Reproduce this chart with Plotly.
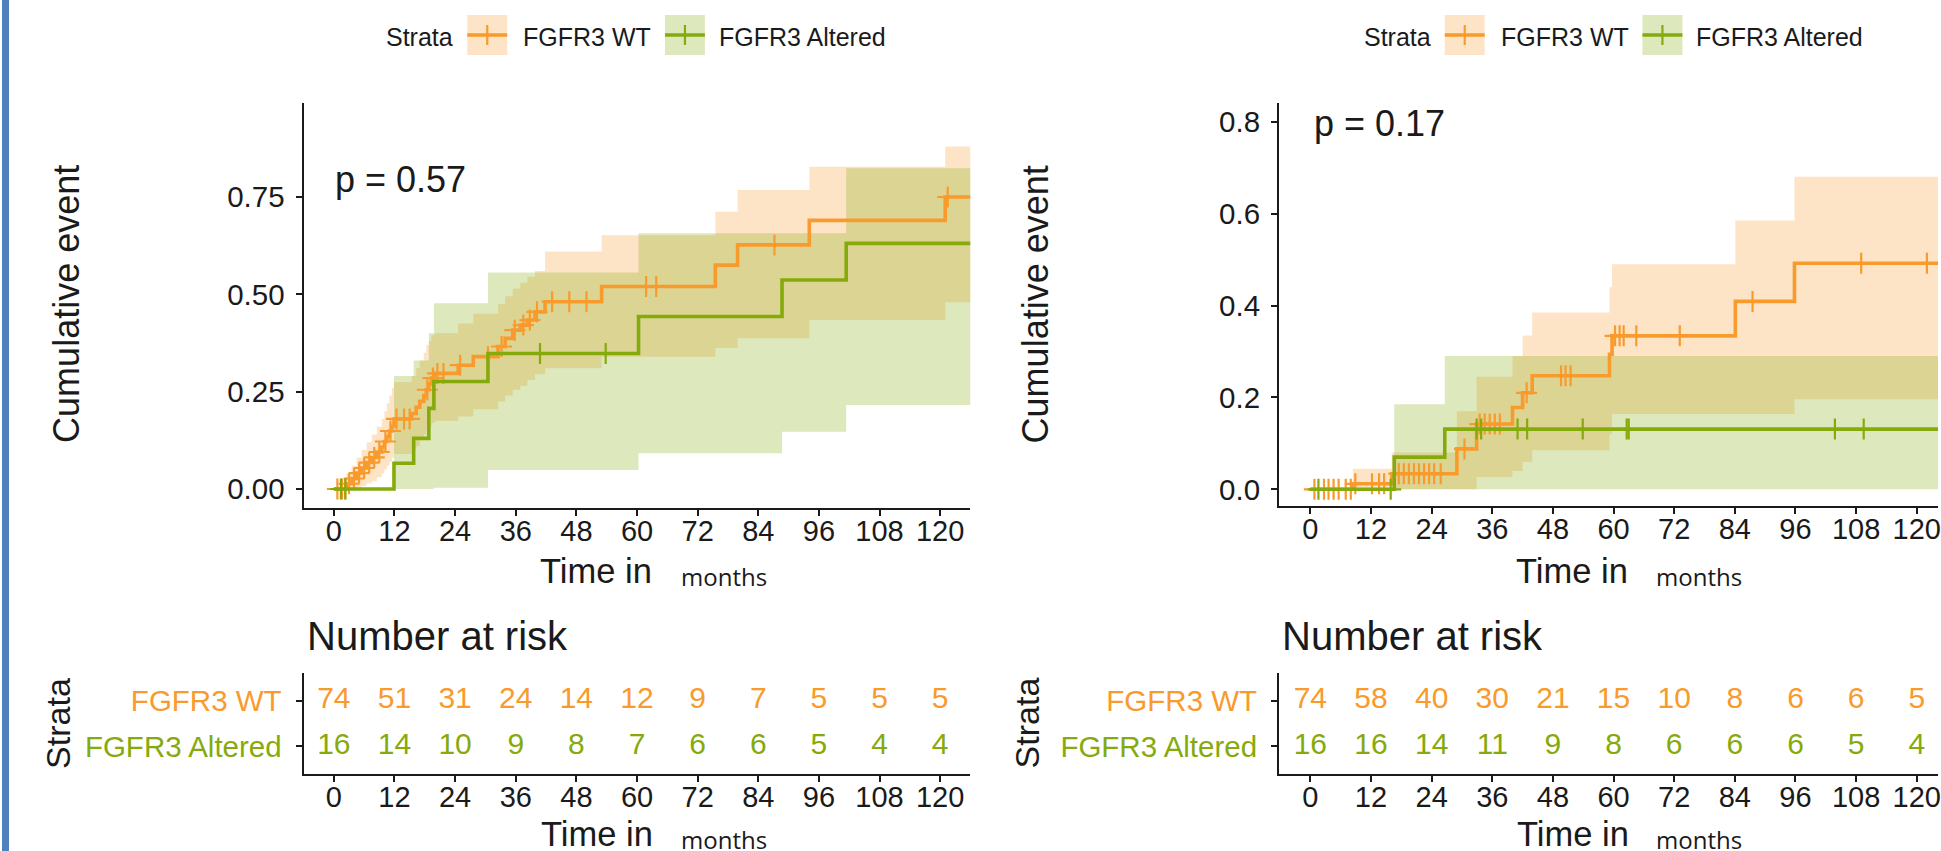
import plotly.graph_objects as go

W, H = 1941, 851
ORANGE = "#F99A2C"
GREEN = "#86AA0B"
ORANGE_FILL = "rgba(249,154,44,0.27)"
GREEN_FILL = "rgba(134,170,11,0.27)"
FONT = "Liberation Sans, Arial, Helvetica, sans-serif"
FONT2 = "Open Sans, Noto Sans, sans-serif"
INK = "#1a1a1a"

# ---------------- data ----------------
time_ticks = [0, 12, 24, 36, 48, 60, 72, 84, 96, 108, 120]
strata_names = ["FGFR3 WT", "FGFR3 Altered"]

# Left panel (p = 0.57)
left_wt_time = [0, 2.5, 3.5, 4.5, 5.5, 6.5, 7.5, 8.5, 9.5, 10.0, 10.5, 11.0, 11.5, 11.9, 15.4, 16.3, 17.0,
                17.8, 18.3, 18.8, 19.3, 20.0, 24.6, 27.6, 32.5, 33.9, 35.4, 36.9, 38.3, 39.8, 41.8, 53.0,
                75.5, 79.9, 94.1, 121.0, 126.0]
left_wt_event = [0, 0.0135, 0.027, 0.041, 0.054, 0.068, 0.081, 0.095, 0.108, 0.122, 0.135, 0.149, 0.162,
                 0.18, 0.194, 0.21, 0.225, 0.24, 0.255, 0.27, 0.285, 0.297, 0.318, 0.34, 0.366, 0.387,
                 0.408, 0.421, 0.434, 0.455, 0.481, 0.52, 0.575, 0.627, 0.69, 0.75, 0.75]
left_wt_upper = [0, 0.04, 0.06, 0.08, 0.10, 0.12, 0.14, 0.16, 0.18, 0.20, 0.22, 0.24, 0.26, 0.275, 0.29,
                 0.31, 0.33, 0.35, 0.37, 0.38, 0.395, 0.40, 0.425, 0.45, 0.475, 0.495, 0.515, 0.53, 0.545,
                 0.56, 0.61, 0.652, 0.712, 0.768, 0.828, 0.88, 0.88]
left_wt_lower = [0, 0, 0, 0.003, 0.008, 0.015, 0.02, 0.03, 0.04, 0.05, 0.06, 0.07, 0.08, 0.09, 0.10,
                 0.11, 0.125, 0.14, 0.15, 0.16, 0.17, 0.175, 0.186, 0.205, 0.225, 0.24, 0.255, 0.265,
                 0.28, 0.295, 0.31, 0.34, 0.362, 0.387, 0.434, 0.48, 0.48]
left_wt_censor = [0.7, 1.6, 2.2, 3.0, 4.0, 5.0, 6.0, 7.0, 8.0, 9.0, 10.2, 11.2, 12.4, 13.9, 15.0, 18.5,
                  19.6, 20.5, 21.7, 25.0, 30.5, 33.2, 35.8, 37.5, 38.8, 40.2, 43.2, 46.6, 50.0, 61.8,
                  63.8, 87.2, 121.5]

left_alt_time = [0, 11.9, 15.8, 18.8, 19.8, 30.5, 60.3, 88.7, 101.4, 126.0]
left_alt_event = [0, 0.066, 0.13, 0.207, 0.276, 0.348, 0.443, 0.537, 0.631, 0.631]
left_alt_upper = [0, 0.29, 0.33, 0.40, 0.477, 0.556, 0.657, 0.657, 0.824, 0.824]
left_alt_lower = [0, 0, 0, 0, 0.003, 0.049, 0.092, 0.147, 0.216, 0.216]
left_alt_censor = [1.4, 2.3, 40.8, 53.8]

left_risk_wt = [74, 51, 31, 24, 14, 12, 9, 7, 5, 5, 5]
left_risk_alt = [16, 14, 10, 9, 8, 7, 6, 6, 5, 4, 4]

# Right panel (p = 0.17)
right_wt_time = [0, 8.4, 16.1, 29.0, 32.9, 40.0, 42.0, 43.9, 59.2, 59.7, 84.1, 95.8, 126.0]
right_wt_event = [0, 0.012, 0.034, 0.088, 0.142, 0.178, 0.21, 0.247, 0.294, 0.334, 0.409, 0.492, 0.492]
right_wt_upper = [0, 0.045, 0.08, 0.17, 0.245, 0.29, 0.335, 0.385, 0.44, 0.49, 0.585, 0.68, 0.68]
right_wt_lower = [0, 0, 0, 0, 0.027, 0.04, 0.06, 0.085, 0.12, 0.164, 0.164, 0.196, 0.196]
right_wt_censor = [0.8, 2.7, 3.6, 4.6, 5.6, 7.0, 8.0, 8.9, 12.2, 13.6, 14.6, 17.5, 18.5, 19.5, 20.5,
                   21.5, 22.5, 23.5, 24.5, 25.8, 30.5, 33.5, 34.5, 35.5, 36.5, 37.5, 42.8, 49.6, 50.5,
                   51.5, 60.3, 61.2, 62.0, 64.5, 73.1, 87.5, 109.0, 122.0]

right_alt_time = [0, 16.6, 26.6, 126.0]
right_alt_event = [0, 0.07, 0.131, 0.131]
right_alt_upper = [0, 0.185, 0.29, 0.29]
right_alt_lower = [0, 0, 0, 0]
right_alt_censor = [1.6, 15.9, 32.9, 33.8, 41.0, 42.9, 53.9, 62.6, 63.0, 103.8, 109.5]

right_risk_wt = [74, 58, 40, 30, 21, 15, 10, 8, 6, 6, 5]
right_risk_alt = [16, 16, 14, 11, 9, 8, 6, 6, 6, 5, 4]

p_values = ["p = 0.57", "p = 0.17"]


# ---------------- helpers ----------------
def P(px):
    return px / W


def Q(py):
    return 1 - py / H


def step_at(ts, vs, t):
    val = vs[0]
    for ti, vi in zip(ts, vs):
        if ti <= t:
            val = vi
        else:
            break
    return val


fig = go.Figure()


def add_group(t, lo, up, fill, xa, ya):
    fig.add_trace(go.Scatter(x=t, y=lo, mode="lines", line=dict(width=0, shape="hv"),
                             xaxis=xa, yaxis=ya, showlegend=False, hoverinfo="skip"))
    fig.add_trace(go.Scatter(x=t, y=up, mode="lines", line=dict(width=0, shape="hv"),
                             fill="tonexty", fillcolor=fill,
                             xaxis=xa, yaxis=ya, showlegend=False, hoverinfo="skip"))


def add_line(t, v, cens, color, xa, ya):
    fig.add_trace(go.Scatter(x=t, y=v, mode="lines", line=dict(width=3.6, color=color, shape="hv"),
                             xaxis=xa, yaxis=ya, showlegend=False))
    fig.add_trace(go.Scatter(x=cens, y=[step_at(t, v, c) for c in cens], mode="markers",
                             marker=dict(symbol="cross-thin", size=15, color=color,
                                         line=dict(width=2.2, color=color)),
                             xaxis=xa, yaxis=ya, showlegend=False))


# left panel
add_group(left_wt_time, left_wt_lower, left_wt_upper, ORANGE_FILL, "x", "y")
add_group(left_alt_time, left_alt_lower, left_alt_upper, GREEN_FILL, "x", "y")
add_line(left_wt_time, left_wt_event, left_wt_censor, ORANGE, "x", "y")
add_line(left_alt_time, left_alt_event, left_alt_censor, GREEN, "x", "y")

# right panel
add_group(right_wt_time, right_wt_lower, right_wt_upper, ORANGE_FILL, "x2", "y2")
add_group(right_alt_time, right_alt_lower, right_alt_upper, GREEN_FILL, "x2", "y2")
add_line(right_wt_time, right_wt_event, right_wt_censor, ORANGE, "x2", "y2")
add_line(right_alt_time, right_alt_event, right_alt_censor, GREEN, "x2", "y2")

# risk tables
for xa, ya, wt, alt in (("x3", "y3", left_risk_wt, left_risk_alt), ("x4", "y4", right_risk_wt, right_risk_alt)):
    fig.add_trace(go.Scatter(x=time_ticks, y=[2] * len(time_ticks), mode="text",
                             text=[str(n) for n in wt],
                             textfont=dict(size=30, color=ORANGE, family=FONT),
                             xaxis=xa, yaxis=ya, showlegend=False, hoverinfo="skip"))
    fig.add_trace(go.Scatter(x=time_ticks, y=[1] * len(time_ticks), mode="text",
                             text=[str(n) for n in alt],
                             textfont=dict(size=30, color=GREEN, family=FONT),
                             xaxis=xa, yaxis=ya, showlegend=False, hoverinfo="skip"))

# ---------------- axes ----------------
x_common = dict(tickvals=time_ticks, ticktext=[str(t) for t in time_ticks], ticks="outside", ticklen=6,
                tickwidth=2, tickcolor=INK, showline=True, linewidth=2, linecolor=INK,
                showgrid=False, zeroline=False, ticklabelstandoff=-10, ticklabeloverflow="allow",
                tickfont=dict(size=29, color=INK, family=FONT))
y_common = dict(ticks="outside", ticklen=6, tickwidth=2, tickcolor=INK, showline=True, linewidth=2,
                linecolor=INK, showgrid=False, zeroline=False, ticklabelstandoff=5,
                tickfont=dict(size=29.5, color=INK, family=FONT))

left_dom = [P(304), P(972)]
right_dom = [P(1281), 1.0]
main_y_dom_l = [Q(508), Q(103)]
main_y_dom_r = [Q(506), Q(103)]
risk_y_dom = [Q(774), Q(673)]

risk_ticktext = [f"<span style='color:{GREEN}'>{strata_names[1]}</span>",
                 f"<span style='color:{ORANGE}'>{strata_names[0]}</span>"]
risk_y = {**y_common, "tickfont": dict(size=29.5, color=INK, family=FONT), "ticklabelstandoff": 8}

fig.update_layout(
    xaxis=dict(domain=left_dom, range=[-6, 126], anchor="y", **x_common),
    yaxis=dict(domain=main_y_dom_l, range=[-0.0488, 0.9915], anchor="x",
               tickvals=[0, 0.25, 0.5, 0.75], ticktext=["0.00", "0.25", "0.50", "0.75"], **y_common),
    xaxis2=dict(domain=right_dom, range=[-6.2, 124.2], anchor="y2", **x_common),
    yaxis2=dict(domain=main_y_dom_r, range=[-0.0363, 0.8407], anchor="x2",
                tickvals=[0, 0.2, 0.4, 0.6, 0.8], ticktext=["0.0", "0.2", "0.4", "0.6", "0.8"], **y_common),
    xaxis3=dict(domain=left_dom, range=[-6, 126], anchor="y3", **x_common),
    yaxis3=dict(domain=risk_y_dom, range=[0.4, 2.6], anchor="x3", tickvals=[1, 2],
                ticktext=risk_ticktext, **risk_y),
    xaxis4=dict(domain=right_dom, range=[-6.2, 124.2], anchor="y4", **x_common),
    yaxis4=dict(domain=risk_y_dom, range=[0.4, 2.6], anchor="x4", tickvals=[1, 2],
                ticktext=risk_ticktext, **risk_y),
    width=W, height=H, margin=dict(l=0, r=0, t=0, b=0),
    paper_bgcolor="white", plot_bgcolor="white", showlegend=False,
    font=dict(family=FONT, color=INK),
)

ann = []
shapes = []


def text(x, y, s, size, xanchor="center", angle=0, family=FONT, color=INK):
    ann.append(dict(x=P(x), y=Q(y), xref="paper", yref="paper", text=s, showarrow=False,
                    xanchor=xanchor, yanchor="middle", textangle=angle,
                    font=dict(size=size, family=family, color=color)))


for off, pv, py, ylab_x in ((0, p_values[0], 180, 66), (977, p_values[1], 123, 1037)):
    text(334 + off + (0 if off == 0 else 3), py, pv, 36, xanchor="left")
    text(ylab_x, 304, "Cumulative event", 36, angle=-90)
    text(ylab_x - 8, 723, "Strata", 34, angle=-90)
    text(597 + off, 571, "Time in", 34.5)
    text(725 + off, 576, "months", 24, family=FONT2)
    text(598 + off, 834, "Time in", 34.5)
    text(725 + off, 839, "months", 24, family=FONT2)
    text(305 + off, 636, "Number at risk", 40, xanchor="left")

# legends
for lx in (0, 979):
    text(385 + lx, 37, "Strata", 25, xanchor="left")
    text(522 + lx, 37, strata_names[0], 25, xanchor="left")
    text(718 + lx, 37, strata_names[1], 25, xanchor="left")
    for bx, col, fillc in ((468 + lx, ORANGE, ORANGE_FILL), (666 + lx, GREEN, GREEN_FILL)):
        shapes.append(dict(type="rect", xref="paper", yref="paper", x0=P(bx), x1=P(bx + 40),
                           y0=Q(55), y1=Q(15), fillcolor=fillc, line=dict(width=0), layer="above"))
        shapes.append(dict(type="line", xref="paper", yref="paper", x0=P(bx), x1=P(bx + 40),
                           y0=Q(35), y1=Q(35), line=dict(color=col, width=3.6), layer="above"))
        shapes.append(dict(type="line", xref="paper", yref="paper", x0=P(bx + 20), x1=P(bx + 20),
                           y0=Q(25), y1=Q(45), line=dict(color=col, width=2.2), layer="above"))

# blue left border
shapes.append(dict(type="rect", xref="paper", yref="paper", x0=P(2), x1=P(9), y0=0, y1=1,
                   fillcolor="#4F81BD", line=dict(width=0)))

fig.update_layout(annotations=ann, shapes=shapes)
fig.write_html("out.html", config={"displayModeBar": False},
               post_script="document.body.style.margin='0';document.body.style.overflow='hidden';")
